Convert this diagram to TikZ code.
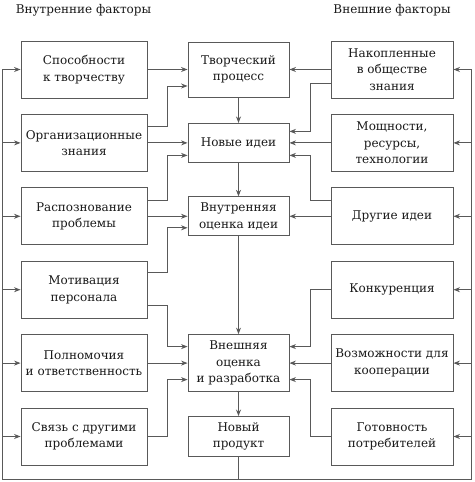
\documentclass[tikz,border=0pt]{standalone}
\usepackage{fontspec}
\setmainfont{DejaVu Serif}
\usetikzlibrary{arrows.meta}

\begin{document}
\begin{tikzpicture}[x=1pt, y=1pt, node distance={73.4pt}, line width=0.9pt, color=black!65, text=black!90,
    font=\fontsize{12}{16.5}\selectfont,
    main/.style = {draw, rectangle, align=center, inner sep=2pt},
    lbox/.style = {main, minimum width=126pt, minimum height=57pt},
    rbox/.style = {main, minimum width=122pt, minimum height=57pt},
    mbox/.style = {main, minimum width=101pt},
    arr/.style = {-{Stealth[length=6.5pt, width=5pt]}}]
    \useasboundingbox (0,0) rectangle (474,482);
    \node (h1) at (83.5,472) {Внутренние факторы};
    \node (h2) at (392,472) {Внешние факторы};
    \node[lbox] (l1) at (84,412.5) {Способности\\к творчеству};
    \node[lbox] (l2) [below of=l1] {Организационные\\знания};
    \node[lbox] (l3) [below of=l2] {Распознование\\проблемы};
    \node[lbox] (l4) [below of=l3] {Мотивация\\персонала};
    \node[lbox] (l5) [below of=l4] {Полномочия\\и ответственность};
    \node[lbox] (l6) [below of=l5] {Связь с другими\\проблемами};
    \node[mbox, minimum height=55pt] (m1) [right of=l1, node distance={154.5pt}] {Творческий\\процесс};
    \node[mbox, minimum height=39pt] (m2) [right of=l2, node distance={154.5pt}] {Новые идеи};
    \node[mbox, minimum height=39pt] (m3) [right of=l3, node distance={154.5pt}] {Внутренняя\\оценка идеи};
    \node[mbox, minimum height=57pt] (m4) [right of=l5, node distance={154.5pt}] {Внешняя\\оценка\\и разработка};
    \node[mbox, minimum height=40pt] (m5) [right of=l6, node distance={154.5pt}] {Новый\\продукт};
    \node[rbox] (r1) [right of=l1, node distance={308pt}] {Накопленные\\в обществе\\знания};
    \node[rbox] (r2) [right of=l2, node distance={308pt}] {Мощности,\\ресурсы,\\технологии};
    \node[rbox] (r3) [right of=l3, node distance={308pt}] {Другие идеи};
    \node[rbox] (r4) [right of=l4, node distance={308pt}] {Конкуренция};
    \node[rbox] (r5) [right of=l5, node distance={308pt}] {Возможности для\\кооперации};
    \node[rbox] (r6) [right of=l6, node distance={308pt}] {Готовность\\потребителей};
    \coordinate (fl) at (2,3);
    \coordinate (fr) at (471.5,3);
    \draw[arr] (l1.east) -- (l1.east -| m1.west);
    \draw[arr] (l2.east) -- (l2.east -| m2.west);
    \draw[arr] (l3.east) -- (l3.east -| m3.west);
    \draw[arr] (l5.east) -- (l5.east -| m4.west);
    \draw[arr] ([yshift=16pt]l2.east) -- ++(20,0) |- ([yshift=-16.5pt]m1.west);
    \draw[arr] ([yshift=16pt]l3.east) -- ++(20,0) |- ([yshift=-12.5pt]m2.west);
    \draw[arr] ([yshift=17pt]l4.east) -- ++(20,0) |- ([yshift=-11.5pt]m3.west);
    \draw[arr] ([yshift=-16pt]l4.east) -- ++(20,0) |- ([yshift=16.5pt]m4.west);
    \draw[arr] (l6.east) -- ++(20,0) |- ([yshift=-16.5pt]m4.west);
    \draw[arr] (r1.west) -- (r1.west -| m1.east);
    \draw[arr] (r2.west) -- (r2.west -| m2.east);
    \draw[arr] (r3.west) -- (r3.west -| m3.east);
    \draw[arr] (r5.west) -- (r5.west -| m4.east);
    \draw[arr] ([yshift=-13.5pt]r1.west) -- ++(-20,0) |- ([yshift=11.5pt]m2.east);
    \draw[arr] ([yshift=16pt]r3.west) -- ++(-20,0) |- ([yshift=-12.5pt]m2.east);
    \draw[arr] (r4.west) -- ++(-20,0) |- ([yshift=16.5pt]m4.east);
    \draw[arr] (r6.west) -- ++(-20,0) |- ([yshift=-16.5pt]m4.east);
    \draw[arr] (m1) -- (m2);
    \draw[arr] (m2) -- (m3);
    \draw[arr] (m3) -- (m4);
    \draw[arr] (m4) -- (m5);
    \draw (m5.south) -- (m5.south |- fl);
    \draw (fl |- l1.west) -- (fl) -- (fr) -- (fr |- r1.east);
    \foreach \n in {l1,l2,l3,l4,l5,l6}
        \draw[arr] (fl |- \n.west) -- (\n.west);
    \foreach \n in {r1,r2,r3,r4,r5,r6}
        \draw[arr] (fr |- \n.east) -- (\n.east);
\end{tikzpicture}
\end{document}
